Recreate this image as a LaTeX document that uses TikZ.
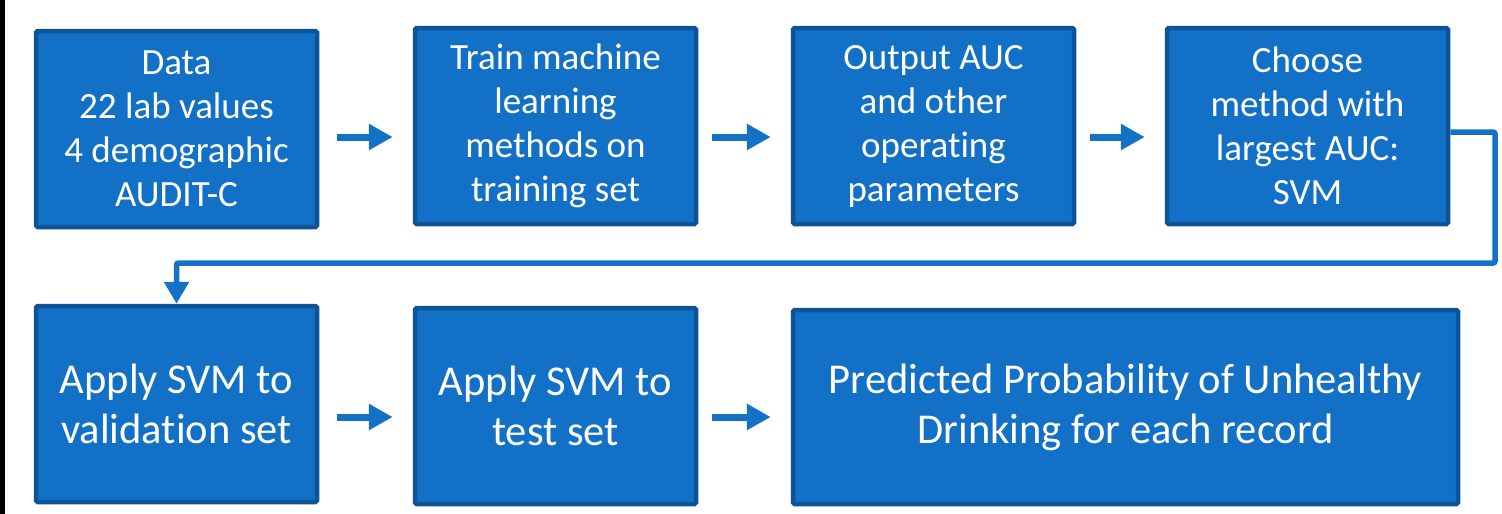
\documentclass[tikz,border=0pt]{standalone}
\usepackage{fontspec}
\setmainfont{Carlito}[Ligatures=NoCommon]
\usetikzlibrary{arrows.meta}
\definecolor{boxfill}{RGB}{18,112,198}
\definecolor{boxline}{RGB}{12,84,150}
\definecolor{arrowc}{RGB}{20,114,198}
\tikzset{
  stepbox/.style={draw=boxline, fill=boxfill, line width=4.5pt, rounded corners=1.5pt,
    text=white, align=center, inner sep=0pt, minimum width=281pt, minimum height=196pt},
  smalltext/.style={font=\fontsize{37}{44}\selectfont},
  bigtext/.style={font=\fontsize{42.5}{50}\selectfont},
  arr/.style={draw=arrowc, line width=7pt, -{Triangle[length=24pt,width=25pt]}},
  conn/.style={draw=arrowc, line width=5.5pt, rounded corners=2pt, -{Triangle[length=22pt,width=24pt]}}
}
\begin{document}
\begin{tikzpicture}[x=1pt,y=-1pt]
\useasboundingbox (0,0) rectangle (1502,514);
\fill[white] (0,0) rectangle (1502,514);
\fill[black] (0,0) rectangle (5,514);
\node[stepbox, smalltext] (b1) at (176.5,129) {Data\\22 lab values\\4 demographic\\AUDIT-C};
\node[stepbox, smalltext] (b2) at (555.5,126) {Train machine\\learning\\methods on\\training set};
\node[stepbox, smalltext] (b3) at (933.5,126) {Output AUC\\and other\\operating\\parameters};
\node[stepbox, smalltext] (b4) at (1307.5,126) {Choose\\method with\\largest AUC:\\SVM};
\node[stepbox, bigtext] (b5) at (176.5,404) {Apply SVM to\\validation set};
\node[stepbox, bigtext] (b6) at (555.5,406) {Apply SVM to\\test set};
\node[stepbox, bigtext, minimum width=665pt, minimum height=194pt] (b7) at (1125.5,407) {Predicted Probability of Unhealthy\\Drinking for each record};
\coordinate (c1) at (1495,263);
\draw[arr] ([xshift=18pt,yshift=-8pt]b1.east) -- ([xshift=-20pt,yshift=-11pt]b2.west);
\draw[arr] ([xshift=14pt,yshift=-11pt]b2.east) -- ([xshift=-20pt,yshift=-11pt]b3.west);
\draw[arr] ([xshift=14pt,yshift=-11pt]b3.east) -- ([xshift=-20pt,yshift=-11pt]b4.west);
\draw[conn] ([yshift=-6pt]b4.east) -| (c1) -| (b5.north);
\draw[arr] ([xshift=18pt,yshift=-13pt]b5.east) -- ([xshift=-20pt,yshift=-11pt]b6.west);
\draw[arr] ([xshift=14pt,yshift=-11pt]b6.east) -- ([xshift=-20pt,yshift=-10pt]b7.west);
\end{tikzpicture}
\end{document}
